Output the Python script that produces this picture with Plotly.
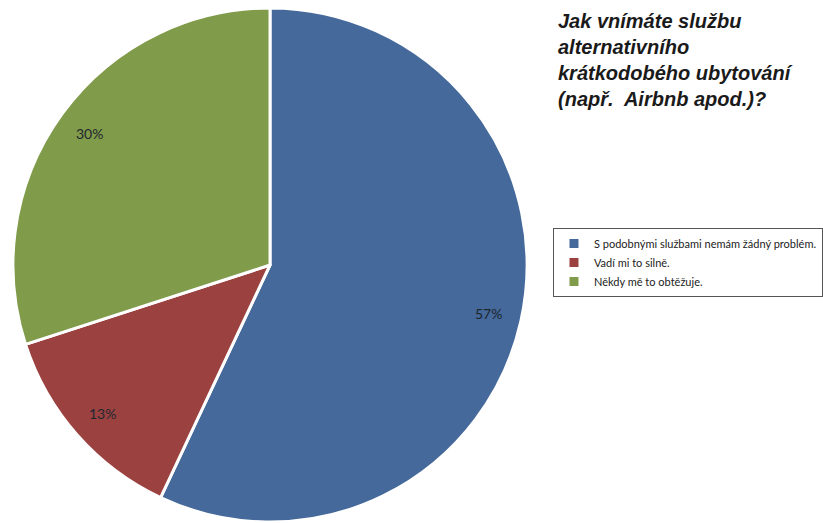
import math
import plotly.graph_objects as go

labels = ["S podobnými službami nemám žádný problém.", "Vadí mi to silně.", "Někdy mě to obtěžuje."]
values = [57, 13, 30]
colors = ["#44699a", "#9b4240", "#809b4a"]
title_lines = ["Jak vnímáte službu", "alternativního", "krátkodobého ubytování", "(např.  Airbnb apod.)?"]

W, H = 823, 523
dom_x = [13 / W, 529 / W]
dom_y = [0.0, 1 - 7 / H]

fig = go.Figure(go.Pie(
    labels=labels, values=values, sort=False, direction="clockwise", rotation=0,
    marker=dict(colors=colors, line=dict(color="white", width=3)),
    textinfo="none", hoverinfo="label+percent",
    domain=dict(x=dom_x, y=dom_y),
))

# percentage labels placed along each slice bisector, computed from values
cx = (dom_x[0] + dom_x[1]) / 2 * W
cy = (1 - (dom_y[0] + dom_y[1]) / 2) * H
R = min((dom_x[1] - dom_x[0]) * W, (dom_y[1] - dom_y[0]) * H) / 2
total = sum(values)
cum = 0
for v in values:
    mid = (cum + v / 2) / total * 2 * math.pi
    cum += v
    px = cx + 0.87 * R * math.sin(mid)
    py = cy - 0.87 * R * math.cos(mid)
    fig.add_annotation(x=px / W, y=1 - py / H, xref="paper", yref="paper",
                       xanchor="center", yanchor="middle",
                       text=f"{round(v / total * 100)}%", showarrow=False,
                       font=dict(family="Lato, sans-serif", size=14, color="#1e2630"))

fig.add_annotation(x=558 / W, y=1 - 8 / H, xref="paper", yref="paper",
                   xanchor="left", yanchor="top", align="left", showarrow=False,
                   text="<br>".join(f"<b><i>{t}</i></b>" for t in title_lines),
                   font=dict(family="Liberation Sans, Arial, sans-serif", size=20, color="#1a1a1a"))

fig.update_layout(
    width=W, height=H, margin=dict(l=0, r=0, t=0, b=0),
    paper_bgcolor="white", plot_bgcolor="white",
    showlegend=True,
    legend=dict(x=555 / W, y=1 - 228 / H, xanchor="left", yanchor="top",
                bordercolor="#555555", borderwidth=1, bgcolor="white",
                font=dict(family="Lato, sans-serif", size=11, color="#222222"),
                itemwidth=30, tracegroupgap=0),
)

fig.write_html("out.html")
